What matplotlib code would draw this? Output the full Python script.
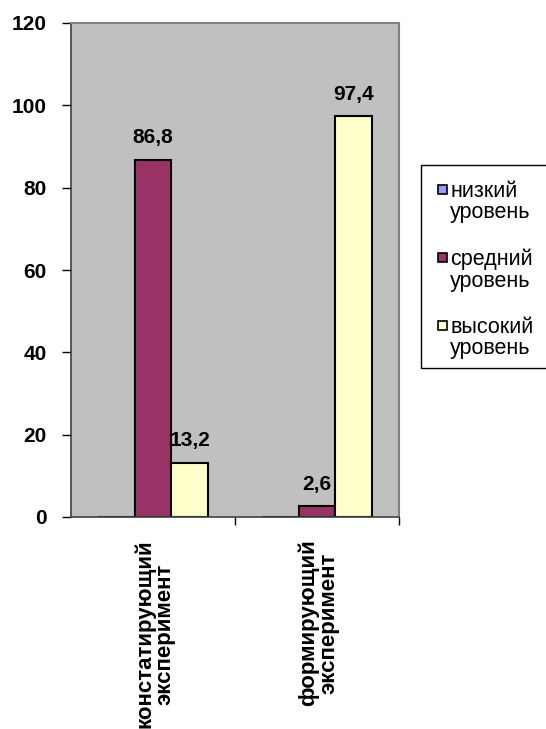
import matplotlib
matplotlib.use("Agg")
import matplotlib.pyplot as plt
from matplotlib.patches import Rectangle
import numpy as np

plt.rcParams["font.family"] = ["Liberation Sans", "DejaVu Sans"]

# Chart data.
categories = ["констатирующий\nэксперимент", "формирующий\nэксперимент"]
series_names = ["низкий\nуровень", "средний\nуровень", "высокий\nуровень"]
low_level = [0, 0]
mid_level = [86.8, 2.6]
high_level = [13.2, 97.4]
yticks = [0, 20, 40, 60, 80, 100, 120]

colors = ["#9999FF", "#993366", "#FFFFCC"]
barWidth = 0.225
W, H = 546, 729

fig = plt.figure(figsize=(W / 100, H / 100), dpi=100)
ax = fig.add_axes([71 / W, 1 - 517 / H, 328 / W, 494 / H])
ax.set_facecolor("#C0C0C0")

x = np.arange(len(categories))
allSeries = [low_level, mid_level, high_level]
for i, values in enumerate(allSeries):
	pos = x + (i - 1) * barWidth
	bars = ax.bar(pos, values, barWidth, color=colors[i], edgecolor="black",
				  linewidth=1.5)
	# Value labels above non-empty bars.
	for b, v in zip(bars, values):
		if v == 0:
			continue
		ax.text(b.get_x() + b.get_width() / 2, v + 3, ("%.1f" % v).replace(".", ","),
				ha="center", va="bottom", fontsize=15, fontweight="bold")

ax.set_xlim(-0.5, 1.5)
ax.set_ylim(0, 120)
ax.set_yticks(yticks)
ax.set_yticklabels([str(t) for t in yticks], fontsize=15, fontweight="bold")
ax.tick_params(axis="y", length=6.5, width=1, direction="out", pad=11, color="black")

# Category ticks sit between groups; labels are rotated under the bars.
ax.set_xticks([0.5, 1.5])
ax.set_xticklabels([])
ax.tick_params(axis="x", length=6, width=1, direction="out", color="black")
for xi, lab in zip(x, categories):
	ax.text(xi + 0.01, -5.5, lab, rotation=90, ha="center", va="top", fontsize=16,
			fontweight="bold", linespacing=0.95, multialignment="center")

for side in ["top", "right"]:
	ax.spines[side].set_color("#808080")
	ax.spines[side].set_linewidth(1.5)
for side in ["left", "bottom"]:
	ax.spines[side].set_color("#404040")
	ax.spines[side].set_linewidth(1.2)

# Legend drawn by hand so the swatch lines up with the first text line.
fig.patches.append(Rectangle((421 / W, 1 - 368 / H), 130 / W, 203 / H,
							 transform=fig.transFigure, facecolor="white",
							 edgecolor="black", linewidth=1.0))
entryTop = 189
for i, name in enumerate(series_names):
	yc = entryTop + i * 68
	fig.patches.append(Rectangle((438 / W, 1 - (yc + 5) / H), 9 / W, 9 / H,
								 transform=fig.transFigure, facecolor=colors[i],
								 edgecolor="black", linewidth=1.2))
	fig.text(450 / W, 1 - (yc - 8) / H, name, ha="left", va="top",
			 fontsize=15.5, linespacing=1.0)

fig.savefig("out.png", dpi=100)
